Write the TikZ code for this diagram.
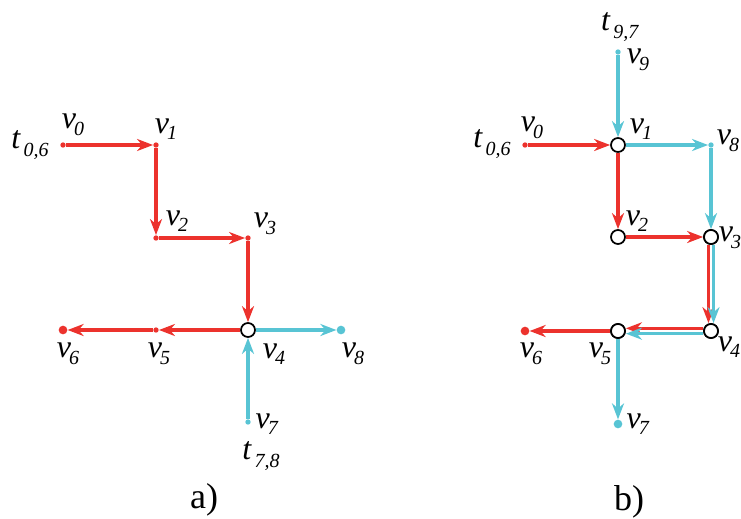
\documentclass[tikz,border=0pt]{standalone}
\usepackage{fontspec}
\setmainfont{Liberation Serif}
\usepackage{xcolor}
\usepackage{tikz}
\usetikzlibrary{arrows.meta, positioning}

\definecolor{pathred}{RGB}{236,50,45}
\definecolor{pathcyan}{RGB}{88,196,212}

\newcommand{\vlab}[1]{\textit{v}\kern-1.5pt\raisebox{-0.45ex}{\fontsize{15}{15}\selectfont\textit{#1}}}
\newcommand{\tlab}[1]{\textit{t}\kern2pt\raisebox{-0.5ex}{\fontsize{15}{15}\selectfont\textit{#1}}}

\begin{document}
\begin{tikzpicture}[
    x=0.75pt, y=-0.75pt,
    dot/.style = {circle, inner sep=0pt, minimum size=4pt, fill=#1},
    bigdot/.style = {circle, inner sep=0pt, minimum size=6.5pt, fill=#1},
    junc/.style = {circle, draw=black, fill=white, line width=1.3pt, inner sep=0pt, minimum size=10.5pt},
    lbl/.style = {font=\fontsize{24}{26}\selectfont, inner sep=0pt},
    panelcap/.style = {font=\fontsize{27}{30}\selectfont, inner sep=0pt},
    rarrow/.style = {draw=pathred, line width=2.3pt, -{Stealth[length=12pt, width=9pt, inset=3.8pt]}},
    carrow/.style = {draw=pathcyan, line width=2.3pt, -{Stealth[length=12pt, width=9pt, inset=3.8pt]}}
]
    \useasboundingbox (0,0) rectangle (741,518);

    % a) vertices
    \node (a0) [dot=pathred] at (63,145) {};
    \node (a1) [dot=pathred] at (156,145) {};
    \node (a2) [dot=pathred] at (156,238) {};
    \node (a3) [dot=pathred] at (248,238) {};
    \node (a4) [junc] at (248,330) {};
    \node (a5) [dot=pathred] at (156,330) {};
    \node (a6) [bigdot=pathred] at (63,330) {};
    \node (a7) [dot=pathcyan] at (248,422) {};
    \node (a8) [bigdot=pathcyan] at (341,330) {};

    % a) edges
    \draw [rarrow] (a0) -- (a1);
    \draw [rarrow] (a1) -- (a2);
    \draw [rarrow] (a2) -- (a3);
    \draw [rarrow] (a3) -- (a4);
    \draw [rarrow] (a4) -- (a5);
    \draw [rarrow] (a5) -- (a6);
    \draw [carrow] (a7) -- (a4);
    \draw [carrow] (a4) -- (a8);

    % a) labels
    \node (ta06) [lbl] at (30,145) {\tlab{0,6}};
    \node (la0) [lbl] at (73,125) {\vlab{0}};
    \node (la1) [lbl] at (166,129) {\vlab{1}};
    \node (la2) [lbl] at (177,221) {\vlab{2}};
    \node (la3) [lbl] at (265,224) {\vlab{3}};
    \node (la4) [lbl] at (274,354) {\vlab{4}};
    \node (la5) [lbl] at (159,354) {\vlab{5}};
    \node (la6) [lbl] at (68,354) {\vlab{6}};
    \node (la7) [lbl] at (267,424) {\vlab{7}};
    \node (la8) [lbl] at (353,354) {\vlab{8}};
    \node (ta78) [lbl] at (261,456) {\tlab{7,8}};
    \node (capa) [panelcap] at (204,500) {a)};

    % b) vertices
    \node (b0) [dot=pathred] at (525,145) {};
    \node (b1) [junc] at (618,145) {};
    \node (b2) [junc] at (618,237) {};
    \node (b3) [junc] at (711,237) {};
    \node (b4) [junc] at (711,331) {};
    \node (b5) [junc] at (618,331) {};
    \node (b6) [bigdot=pathred] at (525,331) {};
    \node (b7) [bigdot=pathcyan] at (618,424) {};
    \node (b8) [dot=pathcyan] at (711,145) {};
    \node (b9) [dot=pathcyan] at (618,52) {};

    % b) edges
    \draw [rarrow] (b0) -- (b1);
    \draw [rarrow] (b1) -- (b2);
    \draw [rarrow] (b2) -- (b3);
    \draw [rarrow] ([xshift=-1.9pt]b3.south) -- ([xshift=-1.9pt]b4.north);
    \draw [rarrow] ([yshift=2pt]b4.west) -- ([yshift=2pt]b5.east);
    \draw [rarrow] (b5) -- (b6);
    \draw [carrow] (b9) -- (b1);
    \draw [carrow] (b1) -- (b8);
    \draw [carrow] (b8) -- (b3);
    \draw [carrow] ([xshift=1.9pt]b3.south) -- ([xshift=1.9pt]b4.north);
    \draw [carrow] ([yshift=-2pt]b4.west) -- ([yshift=-2pt]b5.east);
    \draw [carrow] (b5) -- (b7);
    \node [junc] at (b3) {};
    \node [junc] at (b4) {};
    \node [junc] at (b5) {};

    % b) labels
    \node (tb97) [lbl] at (620,27) {\tlab{9,7}};
    \node (lb9) [lbl] at (638,60) {\vlab{9}};
    \node (tb06) [lbl] at (492,144) {\tlab{0,6}};
    \node (lb0) [lbl] at (532,128) {\vlab{0}};
    \node (lb1) [lbl] at (641,129) {\vlab{1}};
    \node (lb8) [lbl] at (728,141) {\vlab{8}};
    \node (lb2) [lbl] at (637,221) {\vlab{2}};
    \node (lb3) [lbl] at (730,238) {\vlab{3}};
    \node (lb4) [lbl] at (729,347) {\vlab{4}};
    \node (lb5) [lbl] at (600,354) {\vlab{5}};
    \node (lb6) [lbl] at (531,354) {\vlab{6}};
    \node (lb7) [lbl] at (638,424) {\vlab{7}};
    \node (capb) [panelcap] at (629,502) {b)};
\end{tikzpicture}
\end{document}
